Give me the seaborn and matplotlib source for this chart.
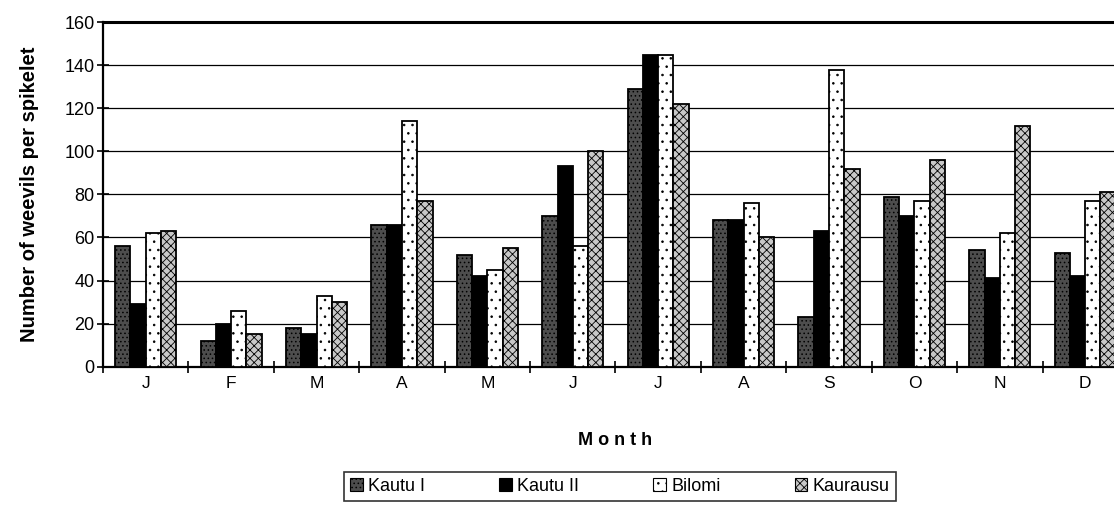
import matplotlib
matplotlib.use("Agg")
import matplotlib.pyplot as plt
import seaborn as sns
import pandas as pd
import numpy as np
from matplotlib.patches import Patch
from matplotlib.ticker import FixedLocator

months = ["J", "F", "M", "A", "M", "J", "J", "A", "S", "O", "N", "D"]
varieties = ["Kautu I", "Kautu II", "Bilomi", "Kaurausu"]

kautu_1 = [56, 12, 18, 66, 52, 70, 129, 68, 23, 79, 54, 53]
kautu_2 = [29, 20, 15, 66, 42, 93, 145, 68, 63, 70, 41, 42]
bilomi = [62, 26, 33, 114, 45, 56, 145, 76, 138, 77, 62, 77]
kaurausu = [63, 15, 30, 77, 55, 100, 122, 60, 92, 96, 112, 81]

# style per variety: facecolor, hatch
styles = {
    "Kautu I": ("#4d4d4d", "...."),
    "Kautu II": ("#000000", ""),
    "Bilomi": ("#ffffff", ".."),
    "Kaurausu": ("#c8c8c8", "xxxx"),
}

# long-form table, month index keeps repeated letters apart
rows = []
for name, vals in zip(varieties, [kautu_1, kautu_2, bilomi, kaurausu]):
    for i, v in enumerate(vals):
        rows.append({"month": i, "variety": name, "value": v})
df = pd.DataFrame(rows)

plt.rcParams["font.family"] = ["Liberation Sans", "DejaVu Sans"]
plt.rcParams["hatch.linewidth"] = 0.6

fig = plt.figure(figsize=(11.14, 5.05), dpi=100)
ax = fig.add_axes([0.0925, 0.274, 0.920, 0.682])

palette = {k: v[0] for k, v in styles.items()}
sns.barplot(data=df, x="month", y="value", hue="variety", hue_order=varieties,
            palette=palette, width=0.715, edgecolor="black", linewidth=1.3,
            saturation=1, ax=ax, legend=False, zorder=3)

# hatching per series
for container, name in zip(ax.containers, varieties):
    for bar in container:
        bar.set_hatch(styles[name][1])

ax.set_ylim(0, 160)
ax.set_xlim(-0.5, 11.5)
ax.set_yticks(np.arange(0, 161, 20))
ax.yaxis.grid(True, color="black", linewidth=0.9, zorder=0)
ax.set_axisbelow(True)
ax.set_facecolor("white")

for side in ["left", "bottom"]:
    ax.spines[side].set_linewidth(1.6)
ax.spines["top"].set_linewidth(2.2)
ax.spines["right"].set_visible(False)

ax.set_xticks(range(12))
ax.set_xticklabels(months, fontsize=12.5)
ax.tick_params(axis="x", length=0, pad=7)
ax.xaxis.set_minor_locator(FixedLocator(np.arange(-0.5, 12, 1)))
ax.tick_params(axis="x", which="minor", direction="inout", length=8, width=1.2)
ax.tick_params(axis="y", direction="inout", length=8, width=1.2, labelsize=13, pad=2)

ax.set_ylabel("Number of weevils per spikelet", fontsize=14.5, fontweight="bold", labelpad=18)
ax.set_xlabel("M o n t h", fontsize=13, fontweight="bold", labelpad=29)

handles = [Patch(facecolor=styles[n][0], hatch=styles[n][1], edgecolor="black", linewidth=0.8)
           for n in varieties]
leg = fig.legend(handles, varieties, loc="upper center", bbox_to_anchor=(0.5566, 0.066),
                 ncol=4, frameon=True, fancybox=False, edgecolor="black", fontsize=13,
                 handlelength=0.7, handleheight=0.7, handletextpad=0.3, columnspacing=4.1,
                 borderpad=0.35, borderaxespad=0)
leg.get_frame().set_linewidth(1.2)

fig.savefig("out.png", dpi=100)
